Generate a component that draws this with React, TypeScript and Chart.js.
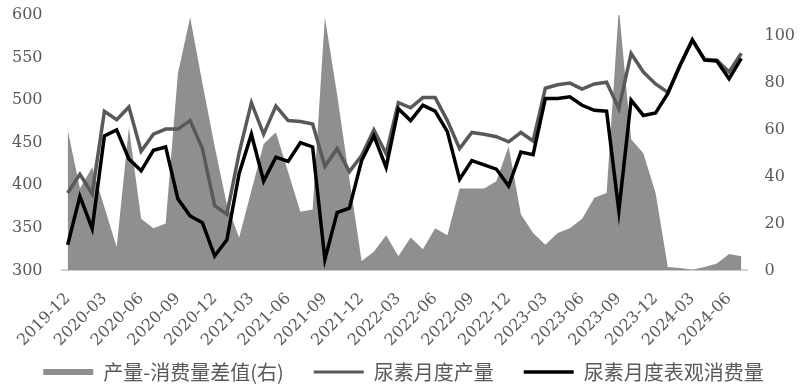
import { useEffect, useRef } from 'react';
import { Chart, registerables } from 'chart.js';

Chart.register(...registerables);

const months = [
  '2019-12',
  '2020-01', '2020-02', '2020-03', '2020-04', '2020-05', '2020-06', '2020-07', '2020-08', '2020-09', '2020-10', '2020-11', '2020-12',
  '2021-01', '2021-02', '2021-03', '2021-04', '2021-05', '2021-06', '2021-07', '2021-08', '2021-09', '2021-10', '2021-11', '2021-12',
  '2022-01', '2022-02', '2022-03', '2022-04', '2022-05', '2022-06', '2022-07', '2022-08', '2022-09', '2022-10', '2022-11', '2022-12',
  '2023-01', '2023-02', '2023-03', '2023-04', '2023-05', '2023-06', '2023-07', '2023-08', '2023-09', '2023-10', '2023-11', '2023-12',
  '2024-01', '2024-02', '2024-03', '2024-04', '2024-05', '2024-06', '2024-07',
];

// 产量-消费量差值(右)
const gapValues = [
  60, 35, 44, 27, 10, 61, 22, 18, 20, 84, 108, 80, 53,
  28, 14, 34, 54, 59, 42, 25, 26, 108, 75, 39, 4,
  8, 15, 6, 14, 9, 18, 15, 35, 35, 35, 38, 53,
  24, 16, 11, 16, 18, 22, 31, 33, 112, 56, 50, 33,
  1.5, 1, 0.3, 1.5, 3, 7, 6,
];

// 尿素月度产量
const productionValues = [
  391, 413, 390, 487, 477, 492, 440, 460, 466, 466, 476, 443, 376,
  366, 438, 497, 460, 493, 476, 475, 472, 422, 443, 416, 435,
  465, 437, 497, 491, 503, 503, 476, 443, 462, 460, 457, 451,
  462, 452, 514, 518, 520, 513, 519, 521, 490, 555, 533, 519,
  509, 541, 570, 548, 547, 533, 555,
];

// 尿素月度表观消费量
const consumptionValues = [
  330, 387, 349, 458, 465, 431, 417, 441, 445, 384, 364, 356, 317,
  336, 414, 460, 405, 433, 428, 450, 445, 313, 368, 373, 429,
  458, 421, 490, 476, 494, 487, 463, 407, 429, 424, 419, 399,
  439, 436, 502, 502, 504, 494, 488, 487, 370, 500, 482, 485,
  508, 541, 571, 547, 546, 525, 549,
];

const leftTicks = [300, 350, 400, 450, 500, 550, 600];
const rightTicks = [0, 20, 40, 60, 80, 100];
const seriesNames = ['产量-消费量差值(右)', '尿素月度产量', '尿素月度表观消费量'];

const AREA_COLOR = '#8f8f8f';
const PROD_COLOR = '#595959';
const CONS_COLOR = '#000000';
const TEXT_COLOR = '#595959';
const NUM_FONT = { family: '"DejaVu Serif", "Liberation Serif", serif', size: 16 };

// Chart.js reserves tick padding twice; keep it once and drop edge paddings
const fitAxis = (s: any) => {
  s.paddingLeft = 0;
  s.paddingRight = 0;
  s.paddingTop = 0;
  s.paddingBottom = 0;
  const p = s.options.ticks.padding || 0;
  if (s.isHorizontal()) s.height -= p;
  else s.width -= p;
};

export default function App() {
  const ref = useRef<HTMLCanvasElement | null>(null);

  useEffect(() => {
    if (!ref.current) return;
    const chart = new Chart(ref.current, {
      type: 'line',
      data: {
        labels: months,
        datasets: [
          {
            label: seriesNames[0],
            data: gapValues,
            yAxisID: 'y1',
            fill: 'origin',
            backgroundColor: AREA_COLOR,
            borderWidth: 0,
            borderColor: AREA_COLOR,
            pointRadius: 0,
            tension: 0,
            order: 3,
            clip: { left: 0, right: 0, top: 3, bottom: 0 },
          },
          {
            label: seriesNames[1],
            data: productionValues,
            yAxisID: 'y',
            fill: false,
            borderColor: PROD_COLOR,
            backgroundColor: PROD_COLOR,
            borderWidth: 3.5,
            pointRadius: 0,
            tension: 0,
            order: 2,
          },
          {
            label: seriesNames[2],
            data: consumptionValues,
            yAxisID: 'y',
            fill: false,
            borderColor: CONS_COLOR,
            backgroundColor: CONS_COLOR,
            borderWidth: 3.5,
            pointRadius: 0,
            tension: 0,
            order: 1,
          },
        ],
      },
      options: {
        animation: false,
        responsive: true,
        maintainAspectRatio: false,
        layout: { padding: { left: 12, right: 6, top: 15, bottom: -8 } },
        plugins: {
          tooltip: { enabled: false },
          legend: {
            position: 'bottom',
            labels: {
              usePointStyle: true,
              pointStyleWidth: 50,
              boxHeight: 6,
              padding: 30,
              color: TEXT_COLOR,
              font: { family: '"Noto Sans CJK SC", sans-serif', size: 20 },
              generateLabels: (c: any) =>
                c.data.datasets.map((ds: any, i: number) => ({
                  text: ds.label,
                  fillStyle: i === 0 ? AREA_COLOR : ds.borderColor,
                  strokeStyle: i === 0 ? AREA_COLOR : ds.borderColor,
                  lineWidth: i === 0 ? 0 : i === 1 ? 3 : 3.5,
                  pointStyle: i === 0 ? 'rect' : 'line',
                  fontColor: TEXT_COLOR,
                  hidden: false,
                  datasetIndex: i,
                })),
            },
          },
        },
        scales: {
          x: {
            type: 'category',
            offset: true,
            afterFit: fitAxis,
            grid: { display: false, drawTicks: false },
            border: { display: true, color: '#d4d4d4', width: 2 },
            ticks: {
              autoSkip: false,
              minRotation: 45,
              maxRotation: 45,
              padding: 19,
              color: TEXT_COLOR,
              font: NUM_FONT,
              callback: (_v: any, i: number) => (i % 3 === 0 ? months[i] : ''),
            },
          },
          y: {
            position: 'left',
            min: 300,
            max: 600,
            afterBuildTicks: (s: any) => {
              s.ticks = leftTicks.map((v) => ({ value: v }));
            },
            afterFit: fitAxis,
            grid: { display: false, drawTicks: false },
            border: { display: false },
            ticks: { padding: 19, color: TEXT_COLOR, font: NUM_FONT },
          },
          y1: {
            position: 'right',
            min: 0,
            max: 109,
            afterBuildTicks: (s: any) => {
              s.ticks = rightTicks.map((v) => ({ value: v }));
            },
            afterFit: fitAxis,
            grid: { display: false, drawTicks: false },
            border: { display: false },
            ticks: { padding: 17, color: TEXT_COLOR, font: NUM_FONT },
          },
        },
      },
    });

    // keep wide horizontal gaps between legend items without a tall legend box
    const lg: any = (chart as any).legend;
    if (lg) {
      const origFit = lg.fit;
      lg.fit = function (this: any, ...args: any[]) {
        const r = origFit.apply(this, args);
        this.height = 43;
        return r;
      };
      const origDraw = lg.draw;
      lg.draw = function (this: any, ...args: any[]) {
        const top = this.top;
        this.top = top - 18;
        try {
          return origDraw.apply(this, args);
        } finally {
          this.top = top;
        }
      };
      chart.update();
    }
    return () => chart.destroy();
  }, []);

  return (
    <div style={{ position: 'absolute', left: 0, top: 0, width: 801, height: 385, background: '#fff' }}>
      <canvas ref={ref} />
    </div>
  );
}
